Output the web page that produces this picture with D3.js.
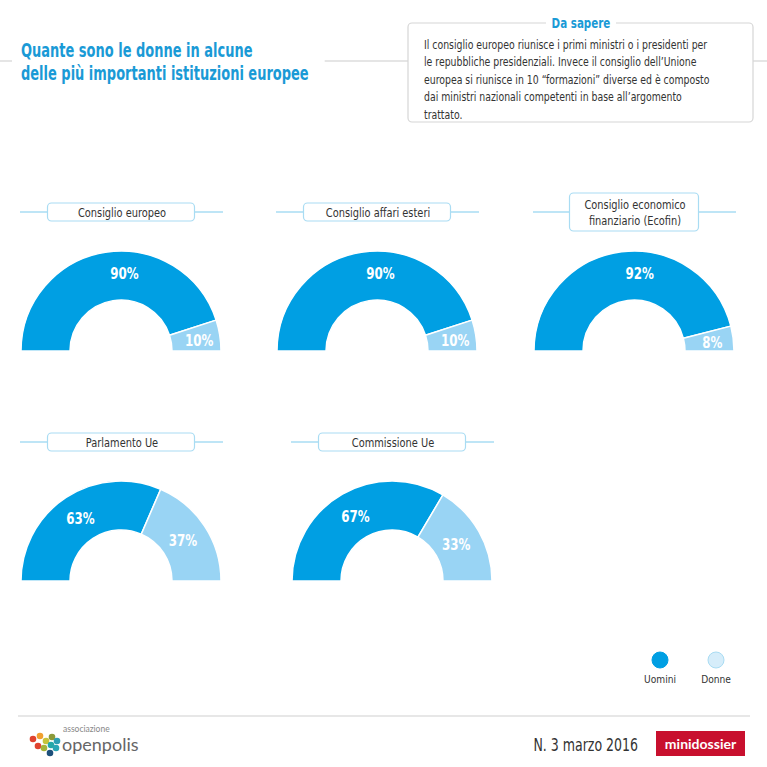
<!DOCTYPE html>
<html>
<head>
<meta charset="utf-8">
<script src="https://cdn.jsdelivr.net/npm/d3@7"></script>
<style>
body{margin:0;background:#fff;}
svg{display:block;font-family:'Liberation Sans Narrow','DejaVu Sans Condensed','Roboto',sans-serif;}
</style>
</head>
<body>
<div class="chart"></div>
<script>
// dati
var istituzioni=[["Consiglio europeo"],["Consiglio affari esteri"],["Consiglio economico","finanziario (Ecofin)"],["Parlamento Ue"],["Commissione Ue"]];
var uomini=[90,90,92,63,67];
var donne=[10,10,8,37,33];
var serie=["Uomini","Donne"];
var testoBox=["Il consiglio europeo riunisce i primi ministri o i presidenti per",
	"le repubbliche presidenziali. Invece il consiglio dell’Unione",
	"europea si riunisce in 10 “formazioni” diverse ed è composto",
	"dai ministri nazionali competenti in base all’argomento",
	"trattato."];

var width=767,height=767;
var blu='#009fe3',azzurro='#99d4f4',linea='#a9dcf3';
var svg=d3.select('div.chart').append('svg')
	.attr('width',width)
	.attr('height',height);

// stringe il testo come un carattere condensed
function stringi(sel,k){
	sel.each(function(){
		var l=this.getComputedTextLength();
		d3.select(this).attr('textLength',l*k).attr('lengthAdjust','spacingAndGlyphs');
	});
}

// titolo
var titolo=svg.append('g');
titolo.selectAll('text')
	.data(["Quante sono le donne in alcune","delle più importanti istituzioni europee"])
	.enter().append('text')
	.attr('x',21)
	.attr('y',function(d,i){return 57+i*23;})
	.attr('font-size','19px')
	.attr('font-weight','bold')
	.attr('fill','#1a9ad6')
	.text(function(d){return d;})
	.call(stringi,0.76);
var tw=titolo.node().getBBox().width;
[[0,12],[21+tw+16,408],[753,767]].forEach(function(s){
	svg.append('line').attr('x1',s[0]).attr('x2',s[1]).attr('y1',61).attr('y2',61)
		.attr('stroke','#dcdcdc').attr('stroke-width',1.5);
});

// box "Da sapere"
svg.append('rect').attr('x',408).attr('y',23).attr('width',345).attr('height',99)
	.attr('rx',4).attr('fill','#fff').attr('stroke','#d6d6d6').attr('stroke-width',1.2);
svg.append('rect').attr('x',546).attr('y',15).attr('width',70).attr('height',14).attr('fill','#fff');
svg.append('text').attr('x',581).attr('y',28).attr('text-anchor','middle')
	.attr('font-size','14px').attr('font-weight','bold').attr('fill','#1a9ad6').text('Da sapere')
	.call(stringi,0.82);
svg.selectAll('.nota').data(testoBox).enter().append('text')
	.attr('class','nota')
	.attr('x',424)
	.attr('y',function(d,i){return 49+i*17.4;})
	.attr('font-size','12.5px')
	.attr('fill','#333')
	.text(function(d){return d;})
	.call(stringi,0.83);

// semi-ciambelle
var centri=[[121,351],[377,351],[634,351],[121,581],[392,581]];
var pie=d3.pie().sort(null).startAngle(-Math.PI/2).endAngle(Math.PI/2);
var arc=d3.arc().innerRadius(51).outerRadius(100);
var arcLabel=d3.arc().innerRadius(74).outerRadius(74);
var colore=d3.scaleOrdinal().domain(serie).range([blu,azzurro]);

istituzioni.forEach(function(nome,i){
	var g=svg.append('g').attr('transform','translate('+centri[i][0]+','+centri[i][1]+')');
	var dati=[{s:serie[0],v:uomini[i]},{s:serie[1],v:donne[i]}];
	var archi=pie.value(function(d){return d.v;})(dati);
	g.selectAll('path').data(archi).enter().append('path')
		.attr('d',arc)
		.attr('fill',function(d){return colore(d.data.s);})
		.attr('stroke','#fff')
		.attr('stroke-width',1.5);
	g.selectAll('.perc').data(archi).enter().append('text')
		.attr('class','perc')
		.attr('transform',function(d){
			var c=arcLabel.centroid(d);
			if(d.data.v>85) c=[c[0]+15,c[1]-4];
			if(d.data.v<15) c=[c[0]+5,c[1]+1];
			return 'translate('+c+')';
		})
		.attr('text-anchor','middle')
		.attr('dy','0.35em')
		.attr('font-size','15px')
		.attr('font-weight','bold')
		.attr('fill','#fff')
		.text(function(d){return d.data.v+'%';})
		.call(stringi,0.88);

	// etichetta
	var ly=-139;
	g.append('line').attr('x1',-101).attr('x2',102).attr('y1',ly).attr('y2',ly)
		.attr('stroke',linea).attr('stroke-width',1.5);
	var h=nome.length>1?38:18, w=nome.length>1?129:147;
	g.append('rect').attr('x',-w/2).attr('y',ly-h/2).attr('width',w).attr('height',h)
		.attr('rx',4).attr('fill','#fff').attr('stroke',linea).attr('stroke-width',1.2);
	g.selectAll('.nome').data(nome).enter().append('text')
		.attr('class','nome')
		.attr('x',1)
		.attr('y',function(d,j){return ly+(j-(nome.length-1)/2)*16;})
		.attr('dy','0.35em')
		.attr('text-anchor','middle')
		.attr('font-size','13px')
		.attr('fill','#333')
		.text(function(d){return d;})
		.call(stringi,0.84);
});

// legenda
var leg=svg.selectAll('.leg').data(serie).enter().append('g')
	.attr('class','leg')
	.attr('transform',function(d,i){return 'translate('+(660+i*56)+',660)';});
leg.append('circle').attr('r',8)
	.attr('fill',function(d,i){return i?'#d6edfa':blu;})
	.attr('stroke',function(d,i){return i?linea:blu;});
leg.append('text').attr('y',23).attr('text-anchor','middle')
	.attr('font-size','11px').attr('fill','#333').text(function(d){return d;})
	.call(stringi,0.92);

// piè di pagina
svg.append('line').attr('x1',18).attr('x2',750).attr('y1',716).attr('y2',716)
	.attr('stroke','#cfcfcf').attr('stroke-width',1.2);
var punti=[[33,739,'#e0432f'],[38,746,'#e0432f'],[40,736,'#f0a030'],[46,741,'#c7c43a'],[44,748,'#a5b43a'],
	[52,737,'#8b9a3a'],[51,745,'#25a8a8'],[57,741,'#2c9fb5'],[56,748,'#2aa6b5'],[50,753,'#1d4f7a']];
svg.selectAll('.punto').data(punti).enter().append('circle')
	.attr('class','punto').attr('cx',function(d){return d[0];}).attr('cy',function(d){return d[1];})
	.attr('r',3.3).attr('fill',function(d){return d[2];});
svg.append('text').attr('x',63).attr('y',732).attr('font-size','8.5px').attr('fill','#888')
	.style('font-family','Lato, sans-serif').text('associazione');
svg.append('text').attr('x',62).attr('y',751).attr('font-size','18px').attr('fill','#666')
	.style('font-family','Lato, sans-serif').text('openpolis');
svg.append('text').attr('x',638).attr('y',751).attr('text-anchor','end')
	.attr('font-size','17px').attr('fill','#333').text('N. 3 marzo 2016')
	.call(stringi,0.82);
svg.append('rect').attr('x',656).attr('y',731).attr('width',89).attr('height',25).attr('fill','#c8102e');
svg.append('text').attr('x',700.5).attr('y',748.5).attr('text-anchor','middle')
	.attr('font-size','14px').attr('font-weight','bold').attr('fill','#fff')
	.style('font-family','Lato, sans-serif').text('minidossier');
</script>
</body>
</html>
